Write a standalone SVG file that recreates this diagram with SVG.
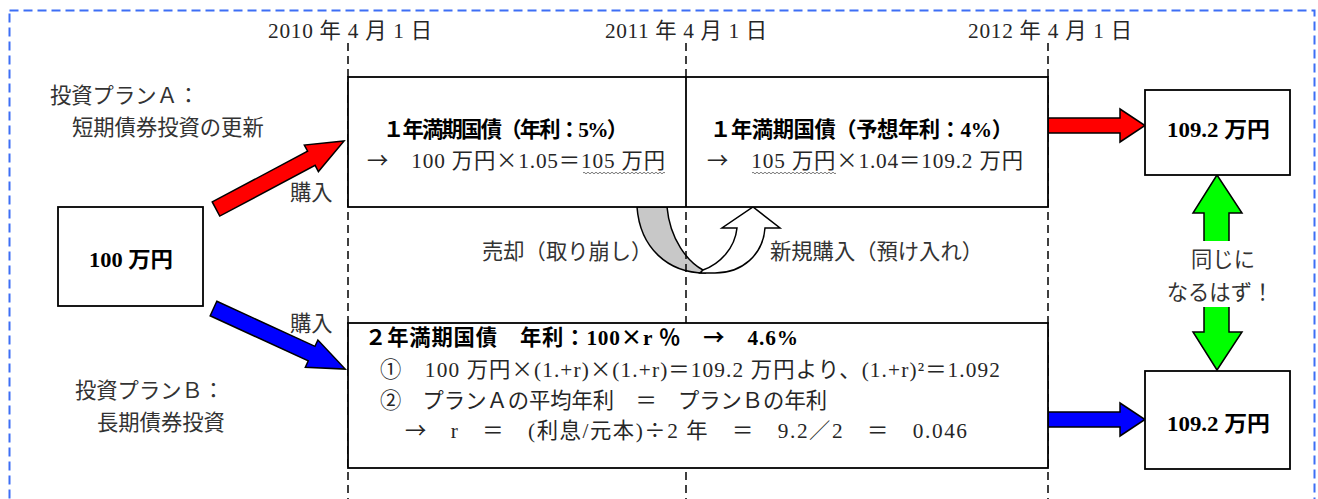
<svg xmlns="http://www.w3.org/2000/svg" width="1318" height="499" viewBox="0 0 1318 499">
<style>
.box{fill:#fff;stroke:#000;stroke-width:1.8}
.t{font-family:"Liberation Serif","Noto Sans CJK JP",serif;font-size:21.3px;fill:#262626}
.b{font-family:"Liberation Serif","Noto Sans CJK JP",serif;font-size:21.3px;font-weight:bold;fill:#000}
.lbl{font-family:"Liberation Serif","Noto Sans CJK JP",serif;font-size:21.3px;fill:#333}
.j{font-family:"Noto Sans CJK JP",sans-serif}
.c{text-anchor:middle}
.vd{stroke:#000;stroke-width:1.5;stroke-dasharray:8 5;fill:none}
.arr{stroke:#000;stroke-width:1.5;stroke-linejoin:miter}
.wave{fill:none;stroke:#555;stroke-width:0.8}
</style>
<defs>
<polygon id="diag" points="0,-8 108,-8 108,-15 145,0 108,15 108,8 0,8"/>
</defs>
<rect x="9.5" y="10.5" width="1305" height="500" fill="none" stroke="#3d6ef5" stroke-width="2" stroke-dasharray="9 5"/>

<g id="dates">
<text class="t" x="268" y="38" textLength="164" lengthAdjust="spacing">2010 年 4 月 1 日</text>
<text class="t" x="605" y="38" textLength="162" lengthAdjust="spacing">2011 年 4 月 1 日</text>
<text class="t" x="968" y="38" textLength="164" lengthAdjust="spacing">2012 年 4 月 1 日</text>
</g>

<g id="connectors">
<path d="M637,207 C640,248 668,273 705,273 L703,270 C688,262 670,240 667,207 Z" fill="#c8c8c8" stroke="#000" stroke-width="1.5"/>
<path d="M700,273 L715,273 C742,273 763,255 765,228 L780,228 L753,207 L722,228 L737,228 C735,248 720,264 703,270 Z" fill="#fff" stroke="#000" stroke-width="1.5"/>
<use href="#diag" class="arr" fill="#ff0000" transform="translate(216,209) rotate(-28)"/>
<use href="#diag" class="arr" fill="#0000ff" transform="translate(213.5,308.5) rotate(24.7)"/>
<polygon class="arr" fill="#ff0000" points="1048,118 1120,118 1120,109 1145,125.5 1120,142 1120,133 1048,133"/>
<polygon class="arr" fill="#0000ff" points="1048,412 1120,412 1120,403 1145,419.5 1120,436 1120,427 1048,427"/>
<polygon class="arr" fill="#00ff00" points="1217,175 1242,213 1229,213 1229,332 1242,332 1217,370 1193,332 1204,332 1204,213 1193,213"/>
<rect x="1168" y="241" width="104" height="66" fill="#fff"/>
<text class="lbl c" x="1223" y="267">同じに</text>
<text class="lbl c" x="1220" y="300">なるはず！</text>
<text class="lbl" x="290" y="200">購入</text>
<text class="lbl" x="290" y="331">購入</text>
<text class="lbl" x="482" y="259">売却（取り崩し）</text>
<text class="lbl" x="770" y="259">新規購入（預け入れ）</text>
</g>

<g id="timeline">
<line class="vd" x1="348" y1="43" x2="348" y2="499"/>
<line class="vd" x1="686" y1="43" x2="686" y2="499"/>
<line class="vd" x1="1048" y1="43" x2="1048" y2="499"/>
</g>

<g id="labels">
<text class="lbl" x="50" y="103">投資プランＡ：</text>
<text class="lbl" x="72" y="135">短期債券投資の更新</text>
<text class="lbl" x="75" y="398">投資プランＢ：</text>
<text class="lbl" x="97" y="430">長期債券投資</text>
</g>

<g id="node-start">
<rect class="box" x="58" y="207" width="145" height="99"/>
<text class="b" x="89" y="267" textLength="84" lengthAdjust="spacingAndGlyphs">100 万円</text>
</g>

<g id="node-planA">
<rect class="box" x="348" y="77" width="700" height="130"/>
<line x1="686" y1="77" x2="686" y2="207" stroke="#000" stroke-width="1.8"/>
<text class="b" x="383" y="137" textLength="245" lengthAdjust="spacing">１年満期国債（年利：5%）</text>
<text class="t" x="367" y="168" textLength="298" lengthAdjust="spacing"><tspan class="j">→</tspan>　100 万円<tspan class="j">×</tspan>1.05＝105 万円</text>
<text class="b" x="710" y="137" textLength="303" lengthAdjust="spacing">１年満期国債（予想年利：4%）</text>
<text class="t" x="707" y="168" textLength="316" lengthAdjust="spacing"><tspan class="j">→</tspan>　105 万円<tspan class="j">×</tspan>1.04＝109.2 万円</text>
<path class="wave" d="M583,173 q1,-1.6 2,0 t2,0 t2,0 t2,0 t2,0 t2,0 t2,0 t2,0 t2,0 t2,0 t2,0 t2,0 t2,0 t2,0 t2,0 t2,0 t2,0 t2,0 t2,0 t2,0 t2,0 t2,0 t2,0 t2,0 t2,0 t2,0 t2,0 t2,0 t2,0 t2,0 t2,0 t2,0 t2,0 t2,0 t2,0 t2,0 t2,0 t2,0 t2,0 t2,0 t2,0"/>
<path class="wave" d="M752,173 q1,-1.6 2,0 t2,0 t2,0 t2,0 t2,0 t2,0 t2,0 t2,0 t2,0 t2,0 t2,0 t2,0 t2,0 t2,0 t2,0 t2,0 t2,0 t2,0 t2,0 t2,0 t2,0 t2,0 t2,0 t2,0 t2,0 t2,0 t2,0 t2,0 t2,0 t2,0 t2,0 t2,0 t2,0 t2,0 t2,0 t2,0 t2,0 t2,0 t2,0 t2,0 t2,0 t2,0"/>
</g>

<g id="node-planB">
<rect class="box" x="348" y="323" width="700" height="145"/>
<text class="b" x="365" y="345" textLength="433" lengthAdjust="spacing">２年満期国債　年利：100<tspan class="j">×</tspan>r ％　<tspan class="j">→</tspan>　4.6%</text>
<text class="t" x="380" y="377" textLength="620" lengthAdjust="spacing">①　100 万円<tspan class="j">×</tspan>(1.+r)<tspan class="j">×</tspan>(1.+r)＝109.2 万円より、(1.+r)²＝1.092</text>
<text class="t" x="380" y="408" textLength="447" lengthAdjust="spacing">②　プランＡの平均年利　＝　プランＢの年利</text>
<text class="t" x="405" y="438" textLength="562" lengthAdjust="spacing"><tspan class="j">→</tspan>　r　＝　(利息/元本)<tspan class="j">÷</tspan>2 年　＝　9.2／2　＝　0.046</text>
</g>

<g id="node-resultA">
<rect class="box" x="1145" y="90" width="145" height="85"/>
<text class="b" x="1167" y="137" textLength="103" lengthAdjust="spacingAndGlyphs">109.2 万円</text>
</g>

<g id="node-resultB">
<rect class="box" x="1145" y="371" width="145" height="98"/>
<text class="b" x="1167" y="431" textLength="103" lengthAdjust="spacingAndGlyphs">109.2 万円</text>
</g>
</svg>
